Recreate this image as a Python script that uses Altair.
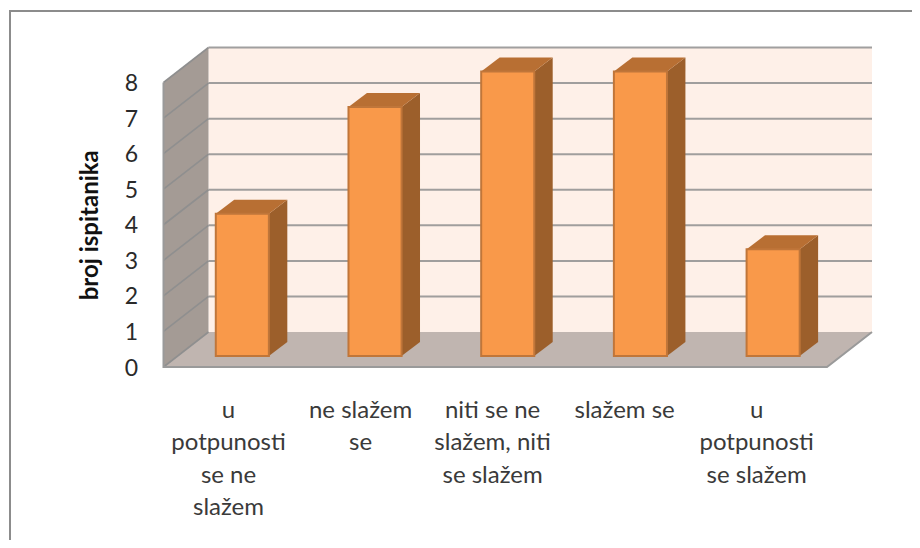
import altair as alt
import pandas as pd

categories = ["u\npotpunosti\nse ne\nslažem", "ne slažem\nse", "niti se ne\nslažem, niti\nse slažem", "slažem se", "u\npotpunosti\nse slažem"]
values = [4, 7, 8, 8, 3]
ticks = [0, 1, 2, 3, 4, 5, 6, 7, 8]

N = len(categories)
YMAX = 8
W, H = 663.5, 284.5
PAD_L, PAD_T = 155.5, 74.5
TOTAL_W, TOTAL_H = 904, 532
# 3-D projection expressed in scale units
DX, DY = 45 / (W / N), 35 / (H / YMAX)
BAR_OFF_X, BAR_OFF_Y = 0.094, 0.31
BAR_HALF = 0.2
BAR_DX, BAR_DY = 0.139, 0.393

X = alt.X("x:Q", scale=alt.Scale(domain=[0, N], nice=False, zero=False), axis=None)
Y = alt.Y("y:Q", scale=alt.Scale(domain=[0, YMAX], nice=False, zero=False),
          axis=alt.Axis(values=ticks, format="d", domain=False, ticks=False, grid=False,
                        labelFont="Lato", labelFontSize=23, labelColor="#2a2a2a", labelPadding=26, labelOffset=1,
                        title="broj ispitanika", titleFont="Lato", titleFontSize=24, titleFontWeight="bold",
                        titleColor="#111111", titlePadding=22))

WALL, FLOOR, BACK = "#a49b95", "#c0b5b0", "#fef0e8"
GRID = "#8f8f8f"
FRONT, SIDE, TOP, EDGE = "#f9994a", "#9c5f2b", "#b86f33", "#c0763a"


def df(rows):
    return pd.DataFrame(rows)


border = alt.Chart(df([{"k": 0}])).mark_rect(fillOpacity=0, stroke="#8c8c8c", strokeWidth=2).encode(
    x=alt.value(10 - 8 - PAD_L), x2=alt.value(TOTAL_W + 50),
    y=alt.value(11 - 8 - PAD_T), y2=alt.value(TOTAL_H + 50))

back = alt.Chart(df([{"x": DX, "x2": N + DX, "y": DY, "y2": YMAX + DY}])).mark_rect(fill=BACK).encode(
    x=X, x2="x2:Q", y=Y, y2="y2:Q")

floor = alt.Chart(df([{"y": 0, "x": 0, "x2": N}, {"y": DY, "x": DX, "x2": N + DX}])).mark_area(
    orient="horizontal", fill=FLOOR).encode(y=Y, x=X, x2="x2:Q")

wall = alt.Chart(df([{"x": 0, "y": 0, "y2": YMAX}, {"x": DX, "y": DY, "y2": YMAX + DY}])).mark_area(
    fill=WALL).encode(x=X, y=Y, y2="y2:Q")

grid = alt.Chart(df([{"x": DX, "x2": N + DX, "y": t + DY} for t in ticks if t > 0])).mark_rule(
    color=GRID, strokeWidth=2, opacity=0.85).encode(x=X, x2="x2:Q", y=Y)

diag_rows = []
for t in ticks:
    diag_rows += [{"t": t, "o": 0, "x": 0, "y": t}, {"t": t, "o": 1, "x": DX, "y": t + DY}]
diag = alt.Chart(df(diag_rows)).mark_line(color=GRID, strokeWidth=1.6).encode(
    x=X, y=Y, detail="t:N", order="o:Q")

edge_rows = [{"e": 0, "o": 0, "x": 0, "y": YMAX}, {"e": 0, "o": 1, "x": 0, "y": 0},
             {"e": 0, "o": 2, "x": N, "y": 0}, {"e": 0, "o": 3, "x": N + DX, "y": DY}]
edges = alt.Chart(df(edge_rows)).mark_line(color="#9a9a9a", strokeWidth=2).encode(
    x=X, y=Y, detail="e:N", order="o:Q")

front_rows, side_rows, top_rows = [], [], []
for i, v in enumerate(values):
    c = i + 0.5 + BAR_OFF_X
    x0, x1 = c - BAR_HALF, c + BAR_HALF
    y0, y1 = BAR_OFF_Y, BAR_OFF_Y + v
    front_rows.append({"x": x0, "x2": x1, "y": y0, "y2": y1})
    side_rows += [{"b": i, "x": x1, "y": y0, "y2": y1},
                  {"b": i, "x": x1 + BAR_DX, "y": y0 + BAR_DY, "y2": y1 + BAR_DY}]
    top_rows += [{"b": i, "y": y1, "x": x0, "x2": x1},
                 {"b": i, "y": y1 + BAR_DY, "x": x0 + BAR_DX, "x2": x1 + BAR_DX}]

side = alt.Chart(df(side_rows)).mark_area(fill=SIDE).encode(x=X, y=Y, y2="y2:Q", detail="b:N")
top = alt.Chart(df(top_rows)).mark_area(orient="horizontal", fill=TOP).encode(y=Y, x=X, x2="x2:Q", detail="b:N")
front = alt.Chart(df(front_rows)).mark_rect(fill=FRONT, stroke=EDGE, strokeWidth=2).encode(
    x=X, x2="x2:Q", y=Y, y2="y2:Q")

labels = alt.Chart(df([{"x": 0.49 + i * 0.995, "label": c} for i, c in enumerate(categories)])).mark_text(
    font="Lato", fontSize=24, color="#3a3a3a", lineBreak="\n", lineHeight=32.3, baseline="top", align="center"
).encode(x=X, y=alt.value(399 - 8 - PAD_T), text="label:N")

chart = alt.layer(border, back, floor, wall, grid, diag, edges, side, top, front, labels).properties(
    width=W, height=H,
    autosize=alt.AutoSizeParams(type="none"),
    padding={"left": PAD_L, "top": PAD_T, "right": TOTAL_W - PAD_L - W, "bottom": TOTAL_H - PAD_T - H},
    background="white",
).configure_view(stroke=None)

chart.save("out.html", embed_options={"renderer": "svg", "actions": False})
